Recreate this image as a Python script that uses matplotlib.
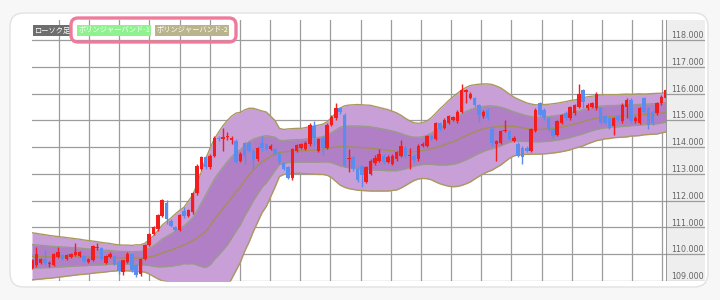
import numpy as np
import matplotlib.pyplot as plt
from matplotlib.patches import FancyBboxPatch, Rectangle

plt.rcParams['font.family'] = ['Noto Sans CJK JP', 'DejaVu Sans']

# candle data (open, close, high, low)
opens = [109.47, 109.59, 109.69, 109.81, 109.62, 109.59, 109.90, 109.98, 109.83, 109.90,
         109.96, 109.93, 109.93, 109.71, 109.77, 110.22, 110.22, 109.69, 109.90, 109.93,
         109.71, 109.35, 109.71, 110.02, 109.59, 109.28, 109.83, 110.35, 110.75, 110.93,
         111.42, 111.91, 111.24, 111.00, 110.91, 111.60, 111.42, 111.57, 112.28, 113.19,
         113.62, 113.25, 113.68, 114.35, 114.29, 114.36, 114.27, 114.23, 113.50, 114.17,
         114.17, 113.86, 113.56, 114.17, 114.10, 113.92, 113.92, 113.74, 113.40, 113.25,
         112.83, 113.86, 113.98, 113.92, 114.10, 114.78, 113.86, 114.35, 113.98, 114.84,
         115.08, 115.45, 115.21, 113.55, 113.62, 113.19, 113.30, 112.70, 113.00, 113.40,
         113.50, 113.68, 113.44, 113.38, 113.56, 113.68, 113.98, 113.66, 113.68, 113.56,
         114.05, 114.05, 114.41, 114.29, 114.90, 114.72, 114.90, 115.03, 114.96, 115.33,
         116.06, 115.82, 115.82, 115.57, 115.15, 115.39, 114.66, 114.11, 114.17, 114.60,
         114.60, 114.23, 114.13, 113.98, 113.98, 113.86, 114.60, 115.63, 115.39, 115.08,
         114.66, 114.47, 114.90, 115.27, 115.08, 115.27, 115.51, 116.12, 115.45, 115.51,
         115.45, 115.45, 115.15, 115.08, 114.78, 115.15, 114.96, 115.51, 115.76, 114.96,
         114.90, 115.82, 115.45, 115.33, 115.27, 115.63, 115.82]
closes = [109.77, 110.02, 109.83, 109.69, 109.69, 110.02, 110.10, 109.83, 109.96, 110.02,
          110.08, 110.08, 109.74, 109.83, 110.32, 110.28, 109.83, 109.92, 110.02, 109.65,
          109.37, 109.77, 110.02, 109.41, 109.22, 109.83, 110.35, 110.75, 111.00, 111.48,
          112.03, 111.30, 111.05, 110.90, 111.48, 111.42, 111.64, 112.28, 113.31, 113.62,
          113.25, 113.68, 114.35, 114.29, 114.39, 114.40, 114.35, 113.44, 113.74, 113.68,
          113.86, 113.56, 113.98, 113.98, 113.92, 114.04, 113.74, 113.44, 113.19, 112.86,
          113.92, 114.08, 114.10, 114.17, 114.84, 114.35, 114.29, 113.98, 114.84, 115.14,
          115.45, 115.30, 113.31, 113.60, 113.19, 112.76, 112.95, 113.25, 113.50, 113.60,
          113.74, 113.44, 113.62, 113.68, 113.80, 114.05, 113.68, 113.72, 113.52, 114.05,
          114.13, 114.41, 114.29, 114.90, 114.66, 115.02, 115.15, 115.11, 115.33, 116.12,
          116.12, 116.00, 115.57, 115.21, 115.33, 115.08, 114.17, 114.23, 114.60, 114.65,
          114.29, 114.35, 113.68, 113.62, 113.86, 114.66, 115.39, 115.21, 115.08, 114.66,
          114.41, 114.96, 115.21, 115.08, 115.51, 115.57, 116.00, 115.69, 115.57, 115.63,
          116.00, 114.90, 114.90, 114.72, 115.08, 115.02, 115.57, 115.76, 114.96, 115.08,
          115.45, 115.33, 114.84, 114.90, 115.63, 115.88, 116.12]
highs = [109.83, 110.26, 109.87, 110.14, 109.75, 110.05, 110.26, 110.02, 110.00, 110.05,
         110.42, 110.12, 109.98, 109.87, 110.35, 110.42, 110.28, 109.96, 110.10, 109.98,
         109.77, 109.80, 110.08, 110.05, 109.62, 109.86, 110.40, 110.80, 111.05, 111.52,
         112.08, 112.03, 111.30, 111.06, 111.52, 111.78, 111.70, 112.32, 113.37, 113.68,
         113.68, 113.74, 114.40, 114.40, 114.72, 114.55, 114.40, 114.30, 113.80, 114.20,
         114.23, 113.92, 114.02, 114.41, 114.15, 114.10, 113.98, 113.80, 113.45, 113.30,
         113.98, 114.12, 114.15, 114.22, 114.90, 114.96, 114.35, 114.40, 114.90, 115.20,
         115.63, 115.50, 115.27, 113.92, 113.68, 113.25, 113.35, 113.30, 113.55, 113.70,
         113.92, 113.74, 113.70, 113.74, 113.85, 114.25, 114.05, 113.98, 113.75, 114.10,
         114.20, 114.45, 114.45, 114.95, 114.95, 115.08, 115.20, 115.15, 115.40, 116.37,
         116.18, 116.05, 115.88, 115.60, 115.40, 115.45, 114.75, 114.25, 114.65, 115.02,
         114.65, 114.40, 114.20, 114.05, 114.05, 114.72, 115.45, 115.70, 115.45, 115.12,
         114.72, 115.00, 115.25, 115.35, 115.55, 115.60, 116.37, 116.18, 115.63, 115.70,
         116.05, 115.50, 115.20, 115.12, 115.12, 115.20, 115.63, 115.82, 115.82, 115.15,
         115.50, 115.88, 115.50, 115.39, 115.70, 115.95, 116.18]
lows = [109.44, 109.53, 109.65, 109.60, 109.54, 109.55, 109.87, 109.80, 109.78, 109.85,
        109.92, 109.90, 109.70, 109.68, 109.74, 110.14, 109.80, 109.65, 109.87, 109.60,
        109.25, 109.22, 109.68, 109.35, 109.15, 109.20, 109.80, 110.30, 110.72, 110.88,
        111.38, 111.12, 111.00, 110.85, 110.85, 111.36, 111.38, 111.52, 112.20, 113.15,
        113.20, 113.20, 113.62, 114.22, 113.86, 114.25, 114.10, 113.40, 113.45, 113.38,
        113.80, 113.19, 113.50, 113.86, 113.88, 113.88, 113.70, 113.38, 113.15, 112.80,
        112.78, 113.80, 113.92, 113.88, 114.05, 114.05, 113.80, 113.70, 113.92, 114.80,
        115.03, 115.25, 113.25, 113.07, 113.10, 112.70, 112.52, 112.65, 112.95, 113.35,
        113.45, 113.38, 113.40, 113.35, 113.50, 113.62, 113.60, 113.20, 113.45, 113.50,
        114.00, 114.00, 114.25, 114.25, 114.60, 114.68, 114.85, 114.98, 114.90, 115.28,
        115.63, 115.78, 115.50, 114.95, 115.10, 115.00, 114.05, 113.50, 114.10, 114.55,
        114.25, 114.20, 113.62, 113.38, 113.80, 113.80, 114.55, 115.15, 115.00, 114.60,
        114.35, 114.40, 114.85, 115.00, 115.02, 115.20, 115.45, 115.45, 115.40, 115.45,
        115.40, 114.85, 114.85, 114.66, 114.47, 114.96, 114.90, 115.08, 114.90, 114.90,
        114.85, 115.27, 114.66, 114.84, 115.21, 115.57, 115.76]

# bollinger band centre line and one-sigma width
mid = [109.92, 109.92, 109.91, 109.91, 109.90, 109.90, 109.90, 109.90, 109.90, 109.90,
       109.90, 109.90, 109.89, 109.89, 109.89, 109.89, 109.88, 109.88, 109.88, 109.87,
       109.87, 109.86, 109.86, 109.85, 109.85, 109.85, 109.87, 109.90, 109.93, 109.98,
       110.05, 110.10, 110.15, 110.22, 110.28, 110.35, 110.42, 110.50, 110.60, 110.72,
       110.85, 111.05, 111.30, 111.50, 111.70, 111.90, 112.12, 112.33, 112.50, 112.75,
       112.95, 113.15, 113.30, 113.45, 113.55, 113.65, 113.75, 113.80, 113.82, 113.84,
       113.85, 113.86, 113.86, 113.87, 113.88, 113.89, 113.90, 113.92, 113.95, 113.98,
       114.00, 114.02, 114.02, 114.01, 114.00, 113.99, 113.98, 113.97, 113.96, 113.94,
       113.92, 113.90, 113.88, 113.86, 113.84, 113.83, 113.82, 113.82, 113.83, 113.85,
       113.87, 113.90, 113.94, 113.98, 114.03, 114.08, 114.14, 114.20, 114.27, 114.35,
       114.43, 114.50, 114.57, 114.63, 114.68, 114.72, 114.74, 114.76, 114.77, 114.78,
       114.78, 114.77, 114.75, 114.72, 114.69, 114.67, 114.66, 114.66, 114.67, 114.68,
       114.70, 114.72, 114.75, 114.78, 114.82, 114.86, 114.90, 114.95, 115.00, 115.04,
       115.08, 115.11, 115.13, 115.14, 115.15, 115.16, 115.17, 115.18, 115.19, 115.20,
       115.21, 115.22, 115.23, 115.24, 115.25, 115.27, 115.30]
sd = [0.44, 0.43, 0.42, 0.41, 0.40, 0.39, 0.38, 0.37, 0.36, 0.35,
      0.34, 0.33, 0.32, 0.31, 0.30, 0.29, 0.28, 0.27, 0.26, 0.25,
      0.24, 0.24, 0.24, 0.24, 0.25, 0.25, 0.27, 0.32, 0.38, 0.45,
      0.52, 0.56, 0.60, 0.64, 0.68, 0.70, 0.78, 0.85, 1.00, 1.18,
      1.35, 1.45, 1.50, 1.53, 1.55, 1.55, 1.52, 1.47, 1.40, 1.32,
      1.25, 1.15, 1.05, 0.95, 0.88, 0.75, 0.62, 0.45, 0.42, 0.42,
      0.42, 0.42, 0.42, 0.43, 0.44, 0.45, 0.46, 0.47, 0.50, 0.56,
      0.64, 0.72, 0.76, 0.78, 0.79, 0.80, 0.80, 0.80, 0.80, 0.79,
      0.78, 0.77, 0.76, 0.74, 0.72, 0.68, 0.63, 0.58, 0.54, 0.52,
      0.52, 0.54, 0.58, 0.64, 0.70, 0.75, 0.80, 0.84, 0.87, 0.89,
      0.90, 0.90, 0.88, 0.86, 0.84, 0.82, 0.80, 0.76, 0.72, 0.66,
      0.60, 0.55, 0.52, 0.50, 0.48, 0.47, 0.46, 0.46, 0.46, 0.46,
      0.46, 0.46, 0.46, 0.46, 0.46, 0.45, 0.45, 0.45, 0.44, 0.43,
      0.42, 0.42, 0.41, 0.41, 0.40, 0.40, 0.40, 0.40, 0.39, 0.39,
      0.39, 0.38, 0.38, 0.38, 0.38, 0.37, 0.37]

price_ticks = [109, 110, 111, 112, 113, 114, 115, 116, 117, 118]
legend_labels = ['ローソク足', 'ボリンジャーバンド-1', 'ボリンジャーバンド-2']

W, H = 720, 300
fig = plt.figure(figsize=(7.2, 3.0), dpi=100)
fig.patch.set_facecolor('#f7f7f7')

# rounded white card behind everything
bg = fig.add_axes([0, 0, 1, 1])
bg.set_xlim(0, W)
bg.set_ylim(H, 0)
bg.axis('off')
bg.add_patch(FancyBboxPatch((10, 13), 698, 274, boxstyle='round,pad=0,rounding_size=14',
                            fc='white', ec='#e2e2e2', lw=1))

def fbox(x0, y0, x1, y1):
    return [x0 / W, 1 - y1 / H, (x1 - x0) / W, (y1 - y0) / H]

top_px, bot_px = 20, 281
ax = fig.add_axes(fbox(32, top_px, 666, bot_px))
ax2 = fig.add_axes(fbox(666, top_px, 705, bot_px), sharey=ax)

o = np.array(opens)
c = np.array(closes)
hi = np.array(highs)
lo = np.array(lows)
m = np.array(mid)
s = np.array(sd)
x = np.arange(len(o))

purple_out = '#c99fd8'
purple_in = '#b07fc6'
ax.fill_between(x, m - 2 * s, m + 2 * s, color=purple_out, lw=0, zorder=1)
ax.fill_between(x, m - s, m + s, color=purple_in, lw=0, zorder=1)
ax.plot(x, m + 2 * s, color='#a99a5c', lw=1, zorder=2)
ax.plot(x, m - 2 * s, color='#a99a5c', lw=1, zorder=2)
ax.plot(x, m + s, color='#9a9a8a', lw=1, zorder=2)
ax.plot(x, m - s, color='#9a9a8a', lw=1, zorder=2)
ax.plot(x, m, color='#a58f55', lw=1, zorder=2)

up = c >= o
cols = np.where(up, '#f41d1d', '#5b8cf0')
ax.vlines(x, lo, hi, colors=cols, lw=1, zorder=3)
ax.bar(x, np.maximum(np.abs(c - o), 0.03), bottom=np.minimum(o, c), width=0.8,
       color=cols, lw=0, zorder=4)

ytop = 116 + (95 - top_px) / 27.3
ybot = 116 - (bot_px - 95) / 27.3
ax.set_ylim(ybot, ytop)
ax.set_xlim(0, len(o) - 1 + 0.07)

ax.set_xticks(np.arange(6.2, len(o), 6.95))
ax.set_yticks(price_ticks)
ax.grid(True, color='#9c9c9c', lw=0.9, zorder=0)
ax.set_axisbelow(True)
ax.tick_params(length=0, labelbottom=False, labelleft=False)
for sp in ax.spines.values():
    sp.set_visible(False)
ax.set_facecolor('white')

ax2.set_facecolor('#eeeeee')
ax2.set_xlim(0, 1)
for v in price_ticks:
    ax2.axhline(v, color='#9c9c9c', lw=0.9)
    ax2.text(0.97, v + 0.07, f'{v:.3f}', ha='right', va='baseline', fontsize=5.8,
             color='#666666', family='DejaVu Sans', clip_on=True)
ax2.axvline(0, color='#8a8a8a', lw=1.2)
ax2.tick_params(length=0, labelbottom=False, labelleft=False)
for sp in ax2.spines.values():
    sp.set_visible(False)

# legend boxes and highlight on top
ov = fig.add_axes([0, 0, 1, 1])
ov.set_xlim(0, W)
ov.set_ylim(H, 0)
ov.axis('off')
boxes = [(33, 72, '#6e6e6e'), (77, 151, '#8ff28f'), (155, 229, '#b9b48b')]
for (x0, x1, fc), lab in zip(boxes, legend_labels):
    r = Rectangle((x0, 25), x1 - x0, 11, fc=fc, ec='none')
    ov.add_patch(r)
    t = ov.text(x0 + 2, 30.7, lab, fontsize=5.2, color='white', va='center', ha='left')
    t.set_clip_path(r)
ov.add_patch(FancyBboxPatch((71, 18), 165, 24, boxstyle='round,pad=0,rounding_size=7',
                            fc='none', ec='#ee7b9c', lw=2.4))

fig.savefig('out.png', dpi=100, facecolor=fig.get_facecolor())
